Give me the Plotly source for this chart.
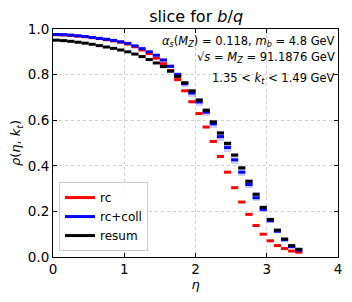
import plotly.graph_objects as go

# bin edges / centres in eta
eta_lo = [round(0.1 * k, 2) for k in range(35)]
eta_hi = [round(0.1 * (k + 1), 2) for k in range(35)]

rc = [0.975, 0.974, 0.972, 0.969, 0.966, 0.962, 0.958, 0.953, 0.948, 0.942,
      0.934, 0.922, 0.908, 0.892, 0.872, 0.848, 0.818, 0.778, 0.729, 0.681,
      0.629, 0.570, 0.507, 0.441, 0.372, 0.304, 0.241, 0.187, 0.138, 0.100,
      0.071, 0.050, 0.037, 0.026, 0.021]
rc_err = [0.002] * 17 + [0.004, 0.005, 0.005, 0.005, 0.005, 0.005, 0.005, 0.005,
                          0.005, 0.005, 0.004, 0.004, 0.004, 0.004, 0.004, 0.004, 0.004, 0.004]

rccoll = [0.976, 0.975, 0.973, 0.970, 0.967, 0.963, 0.959, 0.955, 0.950, 0.944,
          0.937, 0.926, 0.914, 0.900, 0.885, 0.864, 0.836, 0.800, 0.760, 0.719,
          0.680, 0.635, 0.584, 0.528, 0.480, 0.426, 0.372, 0.318, 0.260, 0.209,
          0.159, 0.113, 0.075, 0.045, 0.030]
rccoll_err = [0.003] * 14 + [0.005, 0.007, 0.009, 0.012, 0.014, 0.016, 0.017, 0.018,
                              0.018, 0.018, 0.018, 0.018, 0.017, 0.016, 0.014, 0.012,
                              0.010, 0.008, 0.006, 0.005, 0.004]

resum = [0.951, 0.949, 0.946, 0.942, 0.938, 0.933, 0.927, 0.921, 0.915, 0.908,
         0.900, 0.890, 0.879, 0.866, 0.851, 0.835, 0.815, 0.792, 0.764, 0.728,
         0.688, 0.643, 0.592, 0.544, 0.498, 0.447, 0.391, 0.332, 0.275, 0.218,
         0.165, 0.118, 0.079, 0.050, 0.034]
resum_err = [0.003] * 14 + [0.004, 0.005, 0.006, 0.007, 0.008, 0.009, 0.009, 0.010,
                             0.010, 0.010, 0.010, 0.010, 0.009, 0.009, 0.008, 0.007,
                             0.006, 0.005, 0.004, 0.004, 0.003]

series = [
    ("rc", rc, rc_err, "#ff0000", "rgba(255,0,0,0.22)"),
    ("rc+coll", rccoll, rccoll_err, "#0000ff", "rgba(0,0,255,0.2)"),
    ("resum", resum, resum_err, "#000000", "rgba(0,0,0,0.2)"),
]

fig = go.Figure()
centres = [(a + b) / 2 for a, b in zip(eta_lo, eta_hi)]
widths = [b - a for a, b in zip(eta_lo, eta_hi)]

for name, vals, err, col, band in series:
    fig.add_trace(go.Bar(
        x=centres, y=[2 * e for e in err], base=[v - e for v, e in zip(vals, err)],
        width=widths, marker=dict(color=band, line=dict(width=0)),
        showlegend=False, hoverinfo="skip"))

for name, vals, err, col, band in series:
    xs, ys = [], []
    for a, b, v in zip(eta_lo, eta_hi, vals):
        xs += [a, b, None]
        ys += [v, v, None]
    fig.add_trace(go.Scatter(x=xs, y=ys, mode="lines", name=name,
                             line=dict(color=col, width=3)))

font = "DejaVu Sans"
fig.update_layout(
    width=344, height=294,
    margin=dict(l=45, r=14, t=21, b=45),
    paper_bgcolor="white", plot_bgcolor="white",
    barmode="overlay", bargap=0,
    font=dict(family=font, size=12, color="black"),
    title=dict(text="slice for <i>b</i>/<i>q</i>", x=0.547, xanchor="center",
               xref="container", y=0.973, yanchor="middle", font=dict(size=16)),
    legend=dict(x=0.021, y=0.026, xanchor="left", yanchor="bottom",
                bgcolor="rgba(255,255,255,0.85)", bordercolor="#cccccc", borderwidth=1,
                font=dict(size=12), tracegroupgap=0, itemwidth=30),
    showlegend=True,
)
axis_common = dict(showline=True, mirror="ticks", linecolor="black", linewidth=1,
                   ticks="inside", ticklen=4, tickcolor="black",
                   showgrid=True, gridcolor="#d0d0d0", griddash="dot", gridwidth=1,
                   zeroline=False, tickfont=dict(size=13.5), automargin=False)
fig.update_xaxes(range=[0, 4], tickvals=[0, 1, 2, 3, 4],
                 title=dict(text="<i>η</i>", standoff=2, font=dict(size=13)), **axis_common)
fig.update_yaxes(range=[0, 1], tickvals=[0, 0.2, 0.4, 0.6, 0.8, 1.0], tickformat=".1f",
                 title=dict(text="<i>ρ</i>(<i>η</i>, <i>k</i><sub><i>t</i></sub>)", standoff=6,
                            font=dict(size=13)), **axis_common)

fig.add_annotation(x=0.996, y=0.944, xref="paper", yref="paper", xanchor="right", yanchor="middle",
                   showarrow=False, font=dict(size=11.5),
                   text="<i>α</i><sub><i>s</i></sub>(<i>M</i><sub><i>Z</i></sub>)&nbsp;=&nbsp;0.118, <i>m</i><sub><i>b</i></sub>&nbsp;=&nbsp;4.8 GeV")
fig.add_annotation(x=0.996, y=0.877, xref="paper", yref="paper", xanchor="right", yanchor="middle",
                   showarrow=False, font=dict(size=11.5),
                   text="√<i>s</i>&nbsp;=&nbsp;<i>M</i><sub><i>Z</i></sub>&nbsp;=&nbsp;91.1876 GeV")
fig.add_annotation(x=0.996, y=0.784, xref="paper", yref="paper", xanchor="right", yanchor="middle",
                   showarrow=False, font=dict(size=11.5),
                   text="1.35 &lt; <i>k</i><sub><i>t</i></sub> &lt; 1.49 GeV")

fig.write_html("out.html")
